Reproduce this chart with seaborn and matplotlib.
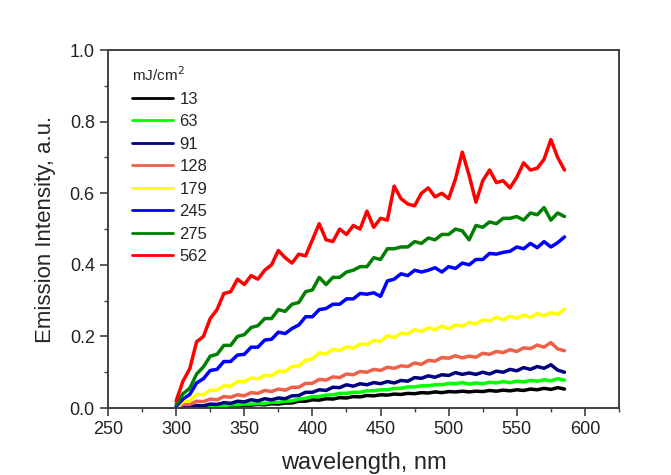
"""Emission intensity spectra for several pump fluences"""

import numpy as np
import pandas as pd
import matplotlib
matplotlib.use("Agg")
import matplotlib.pyplot as plt
from matplotlib.ticker import MultipleLocator
import seaborn as sns

# wavelength grid (nm), 300 .. 585 in 5 nm steps
wavelength = np.arange(300, 590, 5)

fluences = ["13", "63", "91", "128", "179", "245", "275", "562"]
line_colors = ["#000000", "#00ff00", "#000080", "#ee6048",
               "#ffff00", "#0000ff", "#008000", "#ff0000"]

# values
f13 = [0.000, 0.000, 0.001, 0.001, 0.003, 0.002, 0.004, 0.004, 0.006, 0.006,
       0.008, 0.008, 0.010, 0.009, 0.012, 0.011, 0.014, 0.014, 0.019, 0.019,
       0.023, 0.022, 0.026, 0.025, 0.029, 0.028, 0.032, 0.031, 0.035, 0.034,
       0.037, 0.036, 0.039, 0.038, 0.041, 0.040, 0.043, 0.042, 0.045, 0.043,
       0.046, 0.045, 0.047, 0.045, 0.047, 0.046, 0.049, 0.047, 0.050, 0.048,
       0.051, 0.049, 0.053, 0.051, 0.055, 0.052, 0.057, 0.053]
f63 = [0.000, 0.000, 0.002, 0.002, 0.004, 0.004, 0.006, 0.007, 0.009, 0.009,
       0.011, 0.011, 0.013, 0.013, 0.016, 0.016, 0.019, 0.020, 0.025, 0.027,
       0.032, 0.032, 0.036, 0.037, 0.041, 0.041, 0.044, 0.044, 0.048, 0.048,
       0.051, 0.051, 0.055, 0.055, 0.059, 0.059, 0.062, 0.062, 0.065, 0.065,
       0.069, 0.068, 0.071, 0.067, 0.070, 0.068, 0.072, 0.070, 0.074, 0.071,
       0.075, 0.073, 0.077, 0.075, 0.079, 0.076, 0.082, 0.078]
f91 = [0.000, 0.003, 0.003, 0.007, 0.006, 0.011, 0.010, 0.015, 0.013, 0.019,
       0.017, 0.023, 0.020, 0.026, 0.023, 0.028, 0.026, 0.034, 0.035, 0.044,
       0.044, 0.051, 0.049, 0.058, 0.057, 0.065, 0.061, 0.068, 0.065, 0.071,
       0.068, 0.074, 0.070, 0.077, 0.075, 0.085, 0.083, 0.090, 0.086, 0.093,
       0.091, 0.099, 0.094, 0.098, 0.094, 0.100, 0.095, 0.103, 0.100, 0.108,
       0.104, 0.113, 0.108, 0.116, 0.111, 0.121, 0.106, 0.100]
f128 = [0.000, 0.010, 0.010, 0.019, 0.018, 0.025, 0.023, 0.032, 0.030, 0.037,
        0.034, 0.043, 0.041, 0.049, 0.046, 0.053, 0.050, 0.058, 0.058, 0.069,
        0.069, 0.080, 0.078, 0.087, 0.085, 0.095, 0.093, 0.102, 0.100, 0.108,
        0.105, 0.114, 0.111, 0.118, 0.116, 0.126, 0.122, 0.133, 0.131, 0.141,
        0.139, 0.146, 0.140, 0.145, 0.142, 0.153, 0.150, 0.158, 0.155, 0.163,
        0.158, 0.168, 0.166, 0.176, 0.170, 0.183, 0.165, 0.160]
f179 = [0.000, 0.018, 0.020, 0.038, 0.037, 0.050, 0.049, 0.062, 0.061, 0.074,
        0.073, 0.084, 0.081, 0.092, 0.090, 0.103, 0.102, 0.116, 0.117, 0.134,
        0.137, 0.154, 0.151, 0.164, 0.160, 0.171, 0.167, 0.179, 0.177, 0.189,
        0.186, 0.202, 0.197, 0.209, 0.207, 0.219, 0.214, 0.224, 0.219, 0.229,
        0.221, 0.232, 0.229, 0.239, 0.235, 0.246, 0.243, 0.254, 0.246, 0.257,
        0.251, 0.260, 0.253, 0.264, 0.258, 0.266, 0.262, 0.276]
f245 = [0.005, 0.025, 0.038, 0.070, 0.082, 0.105, 0.108, 0.130, 0.130, 0.148,
        0.150, 0.170, 0.170, 0.190, 0.192, 0.212, 0.208, 0.222, 0.232, 0.255,
        0.255, 0.275, 0.278, 0.290, 0.290, 0.305, 0.305, 0.320, 0.318, 0.322,
        0.312, 0.355, 0.360, 0.375, 0.370, 0.385, 0.380, 0.385, 0.392, 0.380,
        0.395, 0.390, 0.405, 0.400, 0.415, 0.415, 0.432, 0.430, 0.435, 0.438,
        0.450, 0.445, 0.460, 0.448, 0.465, 0.450, 0.462, 0.478]
f275 = [0.010, 0.040, 0.055, 0.095, 0.115, 0.145, 0.150, 0.175, 0.175, 0.200,
        0.205, 0.225, 0.230, 0.250, 0.250, 0.275, 0.270, 0.290, 0.295, 0.325,
        0.330, 0.365, 0.345, 0.365, 0.365, 0.380, 0.385, 0.395, 0.395, 0.420,
        0.415, 0.445, 0.445, 0.450, 0.450, 0.465, 0.460, 0.475, 0.470, 0.485,
        0.485, 0.500, 0.495, 0.470, 0.510, 0.505, 0.520, 0.515, 0.530, 0.530,
        0.535, 0.525, 0.545, 0.540, 0.560, 0.525, 0.545, 0.535]
f562 = [0.020, 0.075, 0.110, 0.185, 0.200, 0.250, 0.275, 0.320, 0.325, 0.360,
        0.345, 0.370, 0.360, 0.385, 0.400, 0.440, 0.420, 0.405, 0.430, 0.425,
        0.470, 0.515, 0.470, 0.465, 0.500, 0.485, 0.510, 0.500, 0.550, 0.505,
        0.530, 0.525, 0.620, 0.585, 0.570, 0.565, 0.600, 0.615, 0.590, 0.600,
        0.585, 0.640, 0.715, 0.650, 0.575, 0.635, 0.665, 0.630, 0.635, 0.615,
        0.645, 0.685, 0.665, 0.670, 0.695, 0.750, 0.700, 0.665]

series = [f13, f63, f91, f128, f179, f245, f275, f562]


def build_frame():
    frames = []
    for name, vals in zip(fluences, series):
        frames.append(pd.DataFrame({"wavelength": wavelength,
                                    "intensity": vals,
                                    "fluence": name}))
    return pd.concat(frames, ignore_index=True)


def main():
    sns.set_style("white")
    plt.rcParams["font.family"] = ["Liberation Sans", "DejaVu Sans"]

    data = build_frame()

    fig = plt.figure(figsize=(6.71, 4.75), dpi=100)
    ax = fig.add_axes([0.161, 0.141, 0.7615, 0.7535])

    sns.lineplot(data=data, x="wavelength", y="intensity", hue="fluence",
                 hue_order=fluences, palette=line_colors, linewidth=2.5,
                 ax=ax, legend=True)

    ax.set_xlim(250, 625)
    ax.set_ylim(0, 1.0)
    ax.xaxis.set_major_locator(MultipleLocator(50))
    ax.xaxis.set_minor_locator(MultipleLocator(25))
    ax.yaxis.set_major_locator(MultipleLocator(0.2))
    ax.yaxis.set_minor_locator(MultipleLocator(0.1))
    ax.yaxis.set_major_formatter(plt.FuncFormatter(lambda v, p: f"{v:.1f}"))

    ax.tick_params(which="major", direction="out", length=6, width=1.2,
                   color="#404040", labelsize=13, labelcolor="#222222",
                   bottom=True, left=True)
    ax.tick_params(which="minor", direction="out", length=3, width=1.0,
                   color="#404040", bottom=True, left=True)
    for sp in ax.spines.values():
        sp.set_color("#404040")
        sp.set_linewidth(1.4)

    ax.set_xlabel("wavelength, nm", fontsize=17, labelpad=10)
    ax.set_ylabel("Emission Intensity, a.u.", fontsize=16, labelpad=10)

    leg = ax.legend(title="mJ/cm$^2$", loc="upper left",
                    bbox_to_anchor=(0.025, 0.99), frameon=False,
                    fontsize=12, title_fontsize=11, handlelength=2.45,
                    handletextpad=0.36, labelspacing=0.45, borderpad=0.2)
    leg._legend_box.align = "left"
    for line in leg.get_lines():
        line.set_linewidth(2.0)

    fig.savefig("out.png", dpi=100, facecolor="white")


if __name__ == "__main__":
    main()
